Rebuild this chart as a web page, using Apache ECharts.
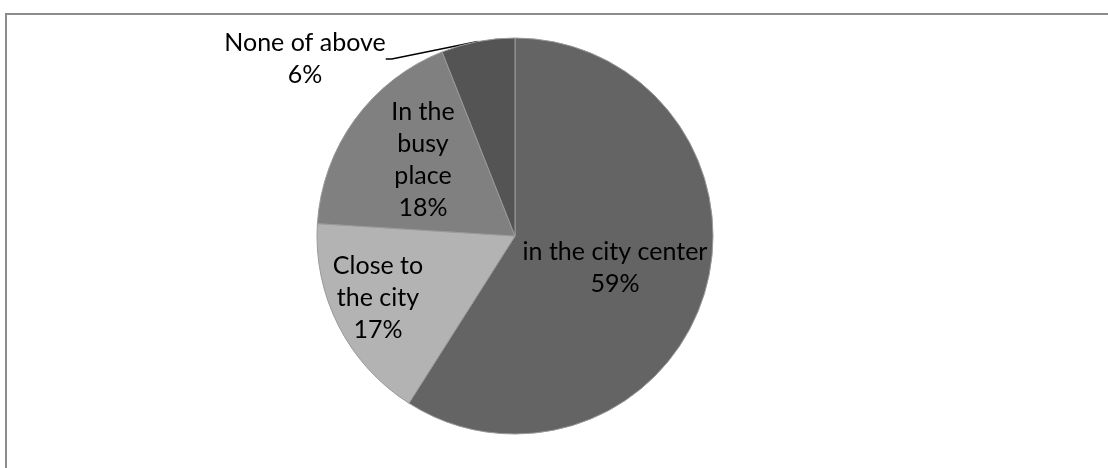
<!DOCTYPE html>
<html>
<head>
<meta charset="utf-8">
<style>
  html, body { margin: 0; padding: 0; background: #ffffff; }
  #chart { width: 1108px; height: 468px; }
</style>
<script src="https://cdn.jsdelivr.net/npm/echarts@6/dist/echarts.min.js"></script>
</head>
<body>
<div id="chart"></div>
<script>
// Where respondents prefer the location to be (share of answers)
const categories = ['in the city center', 'Close to the city', 'In the busy place', 'None of above'];
const labelTexts = ['in the city center', 'Close to\nthe city', 'In the\nbusy\nplace', 'None of above'];
const shares = [59, 17, 18, 6];
const sliceColors = ['#646464', '#b3b3b3', '#808080', '#545454'];

// label anchor points (pixel centres) for each slice label
const labelCenters = [[615, 268], [378, 298], [423, 160], [305, 59]];

const chart = echarts.init(document.getElementById('chart'), null, { renderer: 'canvas' });

const data = categories.map((name, i) => ({
  name: name,
  value: shares[i],
  itemStyle: { color: sliceColors[i] },
  label: i === 3 ? { position: 'outside' } : { position: 'inside' },
  labelLine: i === 3 ? { show: true } : { show: false }
}));

chart.setOption({
  animation: false,
  backgroundColor: '#ffffff',
  graphic: [{
    type: 'rect',
    shape: { x: 6, y: 14, width: 1300, height: 700 },
    style: { fill: 'none', stroke: '#8c8c8c', lineWidth: 2 },
    silent: true
  }],
  series: [{
    type: 'pie',
    center: [515, 236],
    radius: 198,
    startAngle: 90,
    clockwise: true,
    data: data,
    itemStyle: { borderColor: '#9a9a9a', borderWidth: 1 },
    label: {
      show: true,
      formatter: p => labelTexts[p.dataIndex] + '\n' + p.value + '%',
      fontFamily: 'Lato',
      fontSize: 25,
      lineHeight: 32,
      color: '#000000',
      align: 'center'
    },
    labelLine: {
      lineStyle: { color: '#000000', width: 1.5 },
      length: 6, length2: 6
    },
    labelLayout: function (params) {
      const c = labelCenters[params.dataIndex];
      return {
        x: c[0], y: c[1],
        align: 'center', verticalAlign: 'middle'
      };
    }
  }]
});
</script>
</body>
</html>
